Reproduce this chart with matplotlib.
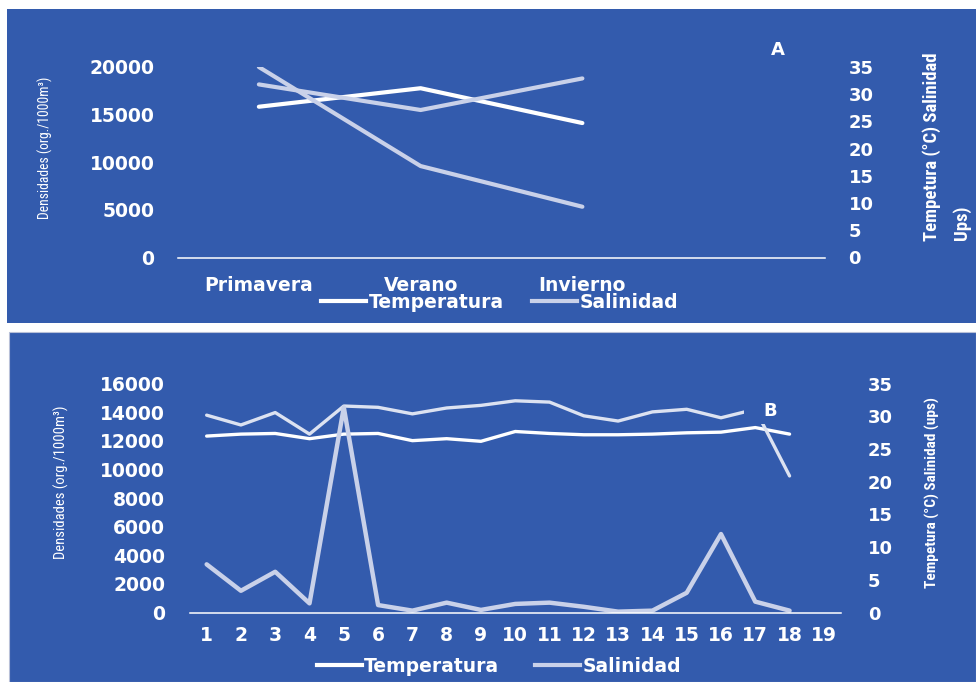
import matplotlib
matplotlib.use("Agg")
import matplotlib.pyplot as plt
from matplotlib import font_manager as fm
from matplotlib.patches import Rectangle
from matplotlib.lines import Line2D

# ---------------- data ----------------
seasons = ["Primavera", "Verano", "Invierno", ""]
dens_a = [20000, 9600, 5330]
temp_a = [27.7, 31.1, 24.7]
sal_a = [31.8, 27.1, 32.9]

stations = list(range(1, 20))
temp_b = [27.0, 27.3, 27.4, 26.6, 27.3, 27.4, 26.3, 26.6, 26.2, 27.7,
          27.4, 27.2, 27.2, 27.3, 27.5, 27.6, 28.3, 27.3]
sal_b = [30.2, 28.7, 30.6, 27.3, 31.6, 31.4, 30.4, 31.3, 31.7, 32.4,
         32.2, 30.1, 29.3, 30.7, 31.1, 29.8, 31.1, 20.9]
dens_b = [3370, 1520, 2850, 640, 14350, 520, 130, 690, 180, 600,
          690, 400, 60, 130, 1380, 5490, 760, 130]

left_ticks_a = [0, 5000, 10000, 15000, 20000]
left_ticks_b = [0, 2000, 4000, 6000, 8000, 10000, 12000, 14000, 16000]
right_ticks = [0, 5, 10, 15, 20, 25, 30, 35]

# ---------------- style ----------------
BLUE = "#335BAD"
WHITE = "#FFFFFF"
GRAY = "#C9D1E9"
SAL_B = "#DCE2F1"

names = {f.name for f in fm.fontManager.ttflist}
narrow = next((n for n in ["Liberation Sans Narrow", "Roboto Condensed",
                           "Open Sans Condensed", "DejaVu Sans"] if n in names),
              "DejaVu Sans")
narrow_scale = 1.0 if narrow != "DejaVu Sans" else 0.8
BOLD = dict(family="DejaVu Sans", weight="bold")

W, H = 976, 682
fig = plt.figure(figsize=(W / 100, H / 100), dpi=100, facecolor="white")


def fx(px):
    return px / W


def fy(py):
    return 1 - py / H


# background panels
fig.patches.append(Rectangle((fx(7), fy(323)), fx(976) - fx(7), fy(9) - fy(323),
                             transform=fig.transFigure, facecolor=BLUE,
                             edgecolor="none", zorder=-10))
fig.patches.append(Rectangle((fx(9), fy(682)), fx(976) - fx(9), fy(332) - fy(682),
                             transform=fig.transFigure, facecolor=BLUE,
                             edgecolor="#B8C0D8", linewidth=0.8, zorder=-10))


def setup(ax, ax2, left_ticks, ylim_l, xpad, lpad, rpad):
    for a in (ax, ax2):
        a.set_facecolor("none")
        for s in a.spines.values():
            s.set_visible(False)
    ax.spines["bottom"].set_visible(True)
    ax.spines["bottom"].set_color(WHITE)
    ax.spines["bottom"].set_linewidth(1.1)
    ax.set_ylim(*ylim_l)
    ax.set_yticks(left_ticks)
    ax.set_yticklabels([str(t) for t in left_ticks])
    ax2.set_ylim(0, 35)
    ax2.set_yticks(right_ticks)
    ax2.set_yticklabels([str(t) for t in right_ticks])
    ax.tick_params(axis="y", length=0, pad=lpad, colors=WHITE, labelsize=13.5)
    ax.tick_params(axis="x", length=0, pad=xpad, colors=WHITE, labelsize=13.5)
    ax2.tick_params(axis="y", length=0, pad=rpad, colors=WHITE, labelsize=13)
    for lab in ax.get_yticklabels() + ax.get_xticklabels() + ax2.get_yticklabels():
        lab.set_fontfamily("DejaVu Sans")
        lab.set_fontweight("bold")
    ax.set_zorder(ax2.get_zorder() + 1)


# ---------------- panel A ----------------
axA = fig.add_axes([fx(178), fy(257.5), fx(825) - fx(178), fy(67) - fy(257.5)])
axA2 = axA.twinx()
xa = list(range(len(seasons)))
axA.set_xlim(-0.5, len(seasons) - 0.5)
axA.set_xticks(xa)
axA.set_xticklabels(seasons)
axA2.plot(xa[:len(temp_a)], temp_a, color=WHITE, lw=3.0, solid_capstyle="round")
axA2.plot(xa[:len(sal_a)], sal_a, color=GRAY, lw=3.0, solid_capstyle="round")
axA.plot(xa[:len(dens_a)], dens_a, color=GRAY, lw=3.0, solid_capstyle="round")
setup(axA, axA2, left_ticks_a, (0, 20000), xpad=13.5, lpad=17, rpad=17)

# ---------------- panel B ----------------
axB = fig.add_axes([fx(189.5), fy(612.5), fx(841) - fx(189.5), fy(383.8) - fy(612.5)])
axB2 = axB.twinx()
axB.set_xlim(0.5, len(stations) + 0.5)
axB.set_xticks(stations)
axB.set_xticklabels([str(s) for s in stations])
xb = stations[:len(temp_b)]
axB2.plot(xb, temp_b, color=WHITE, lw=2.4, solid_capstyle="round")
axB2.plot(xb, sal_b, color=SAL_B, lw=2.4, solid_capstyle="round")
axB.plot(xb, dens_b, color=GRAY, lw=3.2, solid_capstyle="round")
setup(axB, axB2, left_ticks_b, (0, 16000), xpad=10, lpad=17.5, rpad=19.5)

# ---------------- axis titles ----------------
fig.text(fx(45), fy(147.5), "Densidades (org./1000m³)", rotation=90, ha="center",
         va="center", color=WHITE, family=narrow, fontsize=9.8 * narrow_scale)
fig.text(fx(932), fy(146.5), "Tempetura (°C) Salinidad", rotation=90, ha="center",
         va="center", color=WHITE, family=narrow, fontsize=13.4 * narrow_scale,
         weight="bold")
fig.text(fx(962), fy(240), "Ups)", rotation=90, ha="center", va="bottom",
         color=WHITE, family=narrow, fontsize=13.4 * narrow_scale, weight="bold")
fig.text(fx(61), fy(482), "Densidades (org./1000m³)", rotation=90, ha="center",
         va="center", color=WHITE, family=narrow, fontsize=10.5 * narrow_scale)
fig.text(fx(932), fy(493), "Tempetura (°C) Salinidad (ups)", rotation=90,
         ha="center", va="center", color=WHITE, family=narrow,
         fontsize=11.1 * narrow_scale, weight="bold")

# panel letters
fig.text(fx(778), fy(50), "A", ha="center", va="center", color=WHITE,
         fontsize=13, **BOLD)
fig.patches.append(Rectangle((fx(744), fy(424)), fx(790) - fx(744), fy(396) - fy(424),
                             transform=fig.transFigure, facecolor=BLUE,
                             edgecolor="none", zorder=5))
fig.text(fx(770), fy(411), "B", ha="center", va="center", color=WHITE,
         fontsize=13, zorder=6, **BOLD)

# ---------------- legends ----------------
handles_a = [Line2D([], [], color=WHITE, lw=3.0), Line2D([], [], color=GRAY, lw=3.0)]
leg_a = fig.legend(handles_a, ["Temperatura", "Salinidad"], loc="center",
                   bbox_to_anchor=(fx(499.5), fy(302)), ncol=2, frameon=False,
                   handlelength=2.4, handletextpad=0.15, columnspacing=1.5,
                   prop=dict(family="DejaVu Sans", weight="bold", size=13.5),
                   borderpad=0, borderaxespad=0)
for t in leg_a.get_texts():
    t.set_color(WHITE)

handles_b = [Line2D([], [], color=WHITE, lw=3.0), Line2D([], [], color=GRAY, lw=3.0)]
leg_b = fig.legend(handles_b, ["Temperatura", "Salinidad"], loc="center",
                   bbox_to_anchor=(fx(499), fy(666.5)), ncol=2, frameon=False,
                   handlelength=2.4, handletextpad=0.15, columnspacing=1.9,
                   prop=dict(family="DejaVu Sans", weight="bold", size=13.5),
                   borderpad=0, borderaxespad=0)
for t in leg_b.get_texts():
    t.set_color(WHITE)

fig.savefig("out.png", dpi=100, facecolor="white")
